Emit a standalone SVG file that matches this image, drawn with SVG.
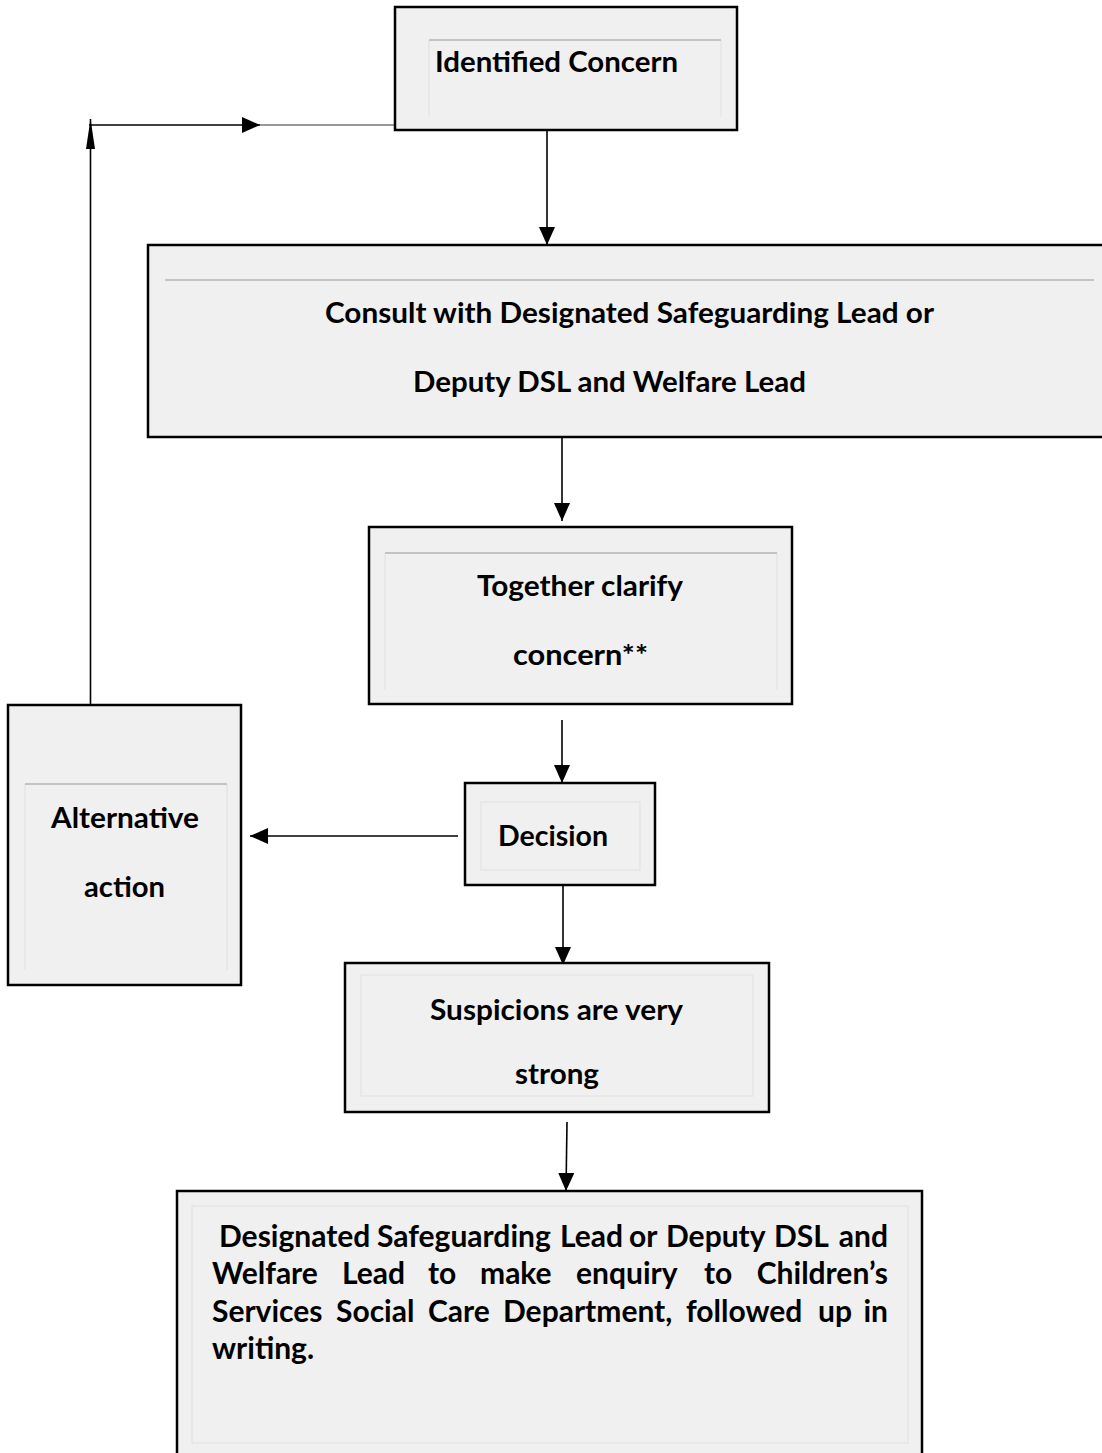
<svg xmlns="http://www.w3.org/2000/svg" width="1102" height="1453" viewBox="0 0 1102 1453">
<style>
.box{fill:#f0f0f0;stroke:#000;stroke-width:2.5}
.itop{stroke:#b4b4b4;stroke-width:1.5;fill:none}
.iside{stroke:#e0e0e0;stroke-width:1;fill:none}
.t{font-family:Lato,"Liberation Sans",sans-serif;font-weight:bold;font-size:28px;fill:#000}
.p{font-size:30px}
.conn{stroke:#000;stroke-width:1.6;fill:none}
</style>
<defs>
<marker id="ah" markerUnits="userSpaceOnUse" markerWidth="18" markerHeight="16" refX="18" refY="8" orient="auto">
<path d="M0,0 L18,8 L0,16 z" fill="#000"/>
</marker>
<marker id="ahn" markerUnits="userSpaceOnUse" markerWidth="30" markerHeight="10" refX="30" refY="4.5" orient="auto">
<path d="M0,0 L30,4.5 L0,9 z" fill="#000"/>
</marker>
</defs>
<rect width="1102" height="1453" fill="#fff"/>

<g id="connectors">
<line class="conn" x1="547" y1="130" x2="547" y2="245" marker-end="url(#ah)"/>
<line class="conn" x1="562" y1="432" x2="562" y2="521" marker-end="url(#ah)"/>
<line class="conn" x1="562" y1="720" x2="562" y2="783" marker-end="url(#ah)"/>
<line class="conn" x1="458" y1="836" x2="250" y2="836" stroke-width="2" marker-end="url(#ah)"/>
<line class="conn" x1="563" y1="885" x2="563" y2="965" marker-end="url(#ah)"/>
<line class="conn" x1="567" y1="1122" x2="566" y2="1191" marker-end="url(#ah)"/>
<line class="conn" x1="90.5" y1="705" x2="90.5" y2="119" stroke-width="1.3" marker-end="url(#ahn)"/>
<line class="conn" x1="89" y1="125" x2="260" y2="125" stroke-width="2" marker-end="url(#ah)"/>
<line x1="260" y1="125" x2="395" y2="125" stroke="#333" stroke-width="1.2"/>
</g>

<g id="identified-concern">
<rect class="box" x="395" y="7" width="342" height="123"/>
<path class="iside" d="M429,40 V117 M721,40 V117"/>
<line class="itop" x1="429" y1="40" x2="721" y2="40"/>
<text class="t" x="435" y="72" textLength="243" lengthAdjust="spacingAndGlyphs">Identified Concern</text>
</g>

<g id="consult">
<rect class="box" x="148" y="245" width="958" height="192"/>
<line class="itop" x1="165" y1="280" x2="1094" y2="280"/>
<text class="t" x="325" y="323" textLength="609" lengthAdjust="spacingAndGlyphs">Consult with Designated Safeguarding Lead or</text>
<text class="t" x="413" y="392" textLength="393" lengthAdjust="spacingAndGlyphs">Deputy DSL and Welfare Lead</text>
</g>

<g id="clarify">
<rect class="box" x="369" y="527" width="423" height="177"/>
<path class="iside" d="M385,553 V690 M777,553 V690"/>
<line class="itop" x1="385" y1="553" x2="777" y2="553"/>
<text class="t" x="477" y="596" textLength="206" lengthAdjust="spacingAndGlyphs">Together clarify</text>
<text class="t" x="513" y="665" textLength="135" lengthAdjust="spacingAndGlyphs">concern**</text>
</g>

<g id="decision">
<rect class="box" x="465" y="783" width="190" height="102"/>
<rect class="iside" x="481" y="802" width="159" height="68"/>
<text class="t" x="498" y="846" textLength="110" lengthAdjust="spacingAndGlyphs">Decision</text>
</g>

<g id="alternative">
<rect class="box" x="8" y="705" width="233" height="280"/>
<path class="iside" d="M25,784 V970 M227,784 V970"/>
<line class="itop" x1="25" y1="784" x2="227" y2="784"/>
<text class="t" x="51" y="828" textLength="148" lengthAdjust="spacingAndGlyphs">Alternative</text>
<text class="t" x="84" y="897" textLength="81" lengthAdjust="spacingAndGlyphs">action</text>
</g>

<g id="suspicions">
<rect class="box" x="345" y="963" width="424" height="149"/>
<rect class="iside" x="361" y="975" width="392" height="121"/>
<text class="t" x="430" y="1020" textLength="253" lengthAdjust="spacingAndGlyphs">Suspicions are very</text>
<text class="t" x="515" y="1084" textLength="84" lengthAdjust="spacingAndGlyphs">strong</text>
</g>

<g id="enquiry">
<rect class="box" x="177" y="1191" width="745" height="280"/>
<rect class="iside" x="192" y="1206" width="716" height="237"/>
<text class="t p" y="1247"><tspan x="219">Designated</tspan><tspan x="377">Safeguarding</tspan><tspan x="560">Lead</tspan><tspan x="629">or</tspan><tspan x="666">Deputy</tspan><tspan x="774">DSL</tspan><tspan x="888" text-anchor="end">and</tspan></text>
<text class="t p" y="1284"><tspan x="212">Welfare</tspan><tspan x="342">Lead</tspan><tspan x="428">to</tspan><tspan x="480">make</tspan><tspan x="576">enquiry</tspan><tspan x="704">to</tspan><tspan x="888" text-anchor="end">Children’s</tspan></text>
<text class="t p" y="1322"><tspan x="212">Services</tspan><tspan x="336">Social</tspan><tspan x="428">Care</tspan><tspan x="503">Department,</tspan><tspan x="686">followed</tspan><tspan x="818">up</tspan><tspan x="888" text-anchor="end">in</tspan></text>
<text class="t p" x="212" y="1359">writing.</text>
</g>
</svg>
